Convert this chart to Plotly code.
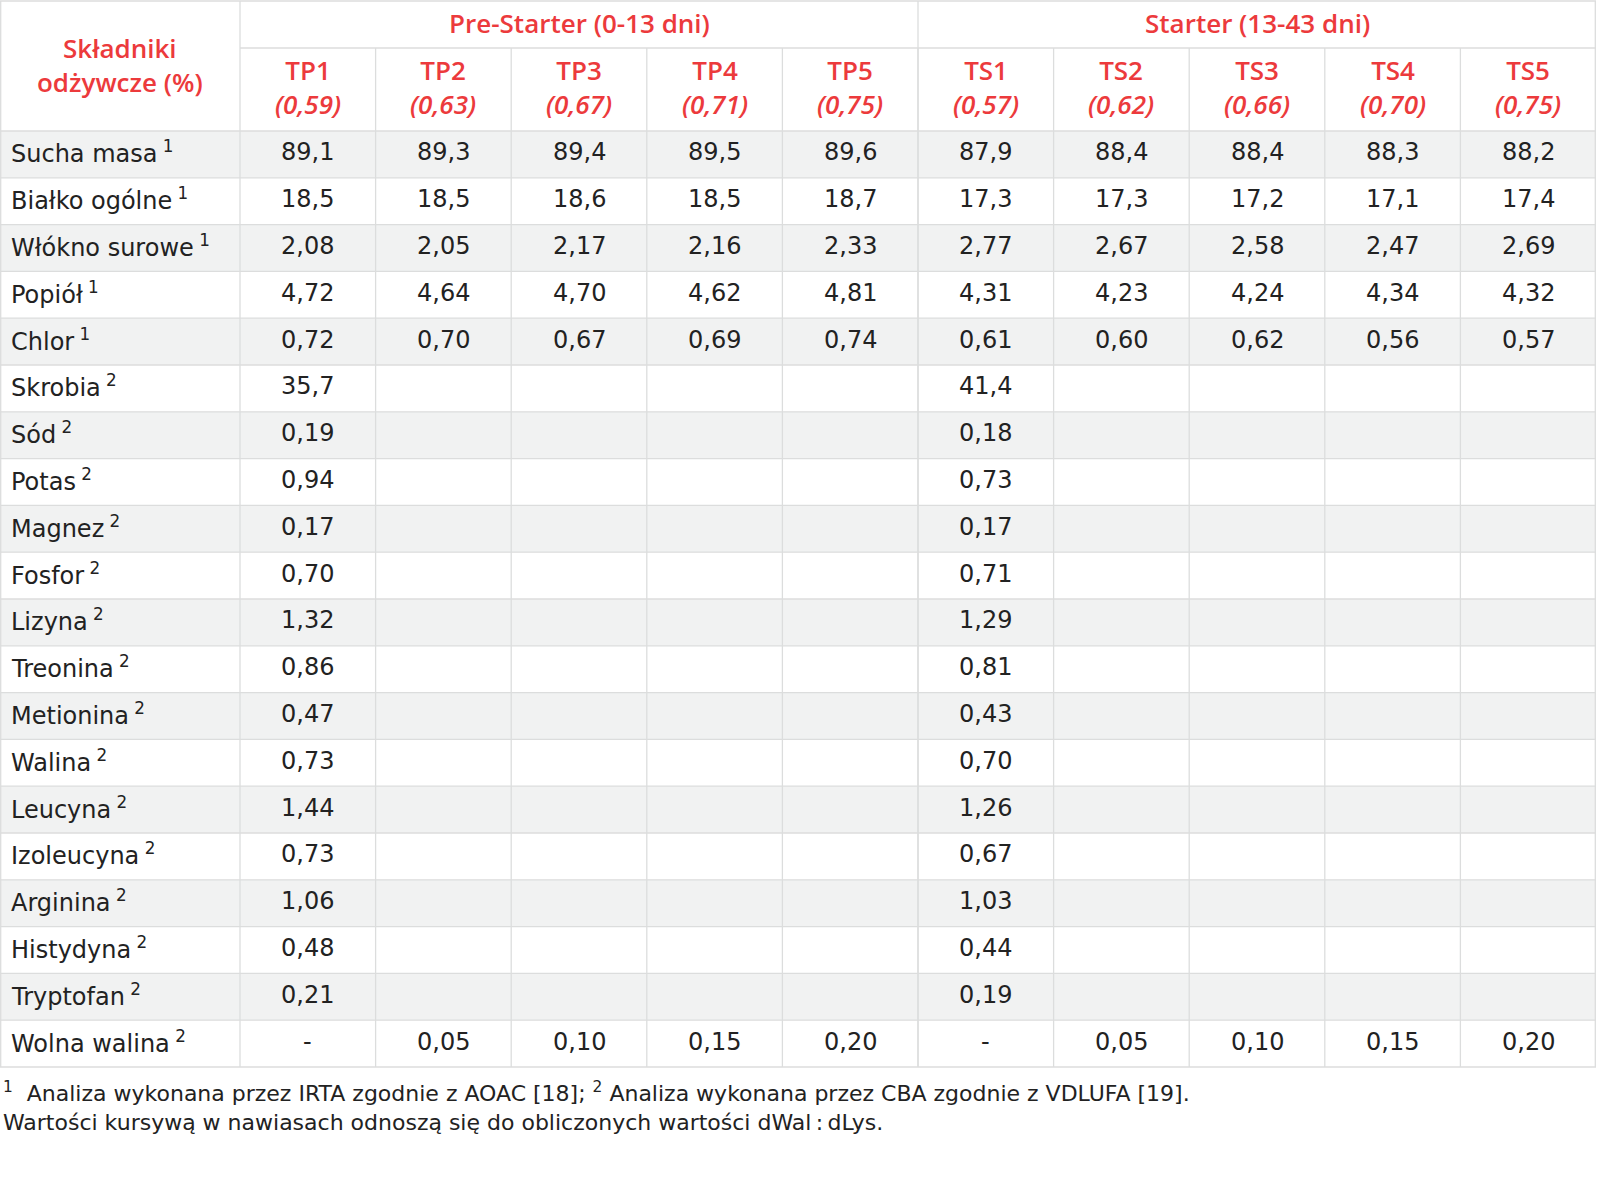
import plotly.graph_objects as go

# ---------------- data ----------------
group_labels = ["Pre-Starter (0-13 dni)", "Starter (13-43 dni)"]
col_codes = ["TP1", "TP2", "TP3", "TP4", "TP5", "TS1", "TS2", "TS3", "TS4", "TS5"]
col_ratios = ["(0,59)", "(0,63)", "(0,67)", "(0,71)", "(0,75)",
              "(0,57)", "(0,62)", "(0,66)", "(0,70)", "(0,75)"]
first_header = "Składniki<br>odżywcze (%)"

row_names = ["Sucha masa", "Białko ogólne", "Włókno surowe", "Popiół", "Chlor",
             "Skrobia", "Sód", "Potas", "Magnez", "Fosfor", "Lizyna", "Treonina",
             "Metionina", "Walina", "Leucyna", "Izoleucyna", "Arginina",
             "Histydyna", "Tryptofan", "Wolna walina"]
row_notes = ["1", "1", "1", "1", "1"] + ["2"] * 15

values = [
    ["89,1", "89,3", "89,4", "89,5", "89,6", "87,9", "88,4", "88,4", "88,3", "88,2"],
    ["18,5", "18,5", "18,6", "18,5", "18,7", "17,3", "17,3", "17,2", "17,1", "17,4"],
    ["2,08", "2,05", "2,17", "2,16", "2,33", "2,77", "2,67", "2,58", "2,47", "2,69"],
    ["4,72", "4,64", "4,70", "4,62", "4,81", "4,31", "4,23", "4,24", "4,34", "4,32"],
    ["0,72", "0,70", "0,67", "0,69", "0,74", "0,61", "0,60", "0,62", "0,56", "0,57"],
    ["35,7", "", "", "", "", "41,4", "", "", "", ""],
    ["0,19", "", "", "", "", "0,18", "", "", "", ""],
    ["0,94", "", "", "", "", "0,73", "", "", "", ""],
    ["0,17", "", "", "", "", "0,17", "", "", "", ""],
    ["0,70", "", "", "", "", "0,71", "", "", "", ""],
    ["1,32", "", "", "", "", "1,29", "", "", "", ""],
    ["0,86", "", "", "", "", "0,81", "", "", "", ""],
    ["0,47", "", "", "", "", "0,43", "", "", "", ""],
    ["0,73", "", "", "", "", "0,70", "", "", "", ""],
    ["1,44", "", "", "", "", "1,26", "", "", "", ""],
    ["0,73", "", "", "", "", "0,67", "", "", "", ""],
    ["1,06", "", "", "", "", "1,03", "", "", "", ""],
    ["0,48", "", "", "", "", "0,44", "", "", "", ""],
    ["0,21", "", "", "", "", "0,19", "", "", "", ""],
    ["-", "0,05", "0,10", "0,15", "0,20", "-", "0,05", "0,10", "0,15", "0,20"],
]

footnotes = [
    "<sup>1</sup>  Analiza wykonana przez IRTA zgodnie z AOAC [18]; <sup>2</sup> Analiza wykonana przez CBA zgodnie z VDLUFA [19].",
    "Wartości kursywą w nawiasach odnoszą się do obliczonych wartości dWal\u2009:\u2009dLys.",
]

# ---------------- layout constants ----------------
W, H = 1600, 1198
BODY_FONT = "DejaVu Sans"
HEAD_FONT = "Open Sans"
RED = "#EC3A3C"
TXT = "#222222"
GRID = "#dcdddd"
ZEBRA = "#f1f2f2"

first_w = 240.0
col_w = 135.6
h1, h2 = 47.0, 83.0
row_h = 46.8
top = 1.0

col_edges = [0.0, first_w]
for _ in col_codes:
    col_edges.append(col_edges[-1] + col_w)
header_bottom = top + h1 + h2
row_edges = [header_bottom + i * row_h for i in range(len(row_names) + 1)]
table_bottom = row_edges[-1]
right = col_edges[-1]

shapes = []
annotations = []

for i in range(len(row_names)):
    if i % 2 == 0:
        shapes.append(dict(type="rect", xref="x", yref="y", x0=0, x1=right,
                           y0=row_edges[i], y1=row_edges[i + 1],
                           fillcolor=ZEBRA, line=dict(width=0), layer="below"))

def hline(y, x0, x1):
    shapes.append(dict(type="line", xref="x", yref="y", x0=x0, x1=x1, y0=y, y1=y,
                       line=dict(color=GRID, width=1.3)))

def vline(x, y0, y1):
    shapes.append(dict(type="line", xref="x", yref="y", x0=x, x1=x, y0=y0, y1=y1,
                       line=dict(color=GRID, width=1.3)))

hline(top, 0, right)
hline(top + h1, first_w, right)
for y in row_edges:
    hline(y, 0, right)
vline(0.7, top, table_bottom)
vline(right - 0.7, top, table_bottom)
vline(first_w, top, table_bottom)
n_first = 5
vline(col_edges[1 + n_first], top, table_bottom)
for k in range(1, len(col_codes)):
    vline(col_edges[1 + k], top + h1, table_bottom)

HSIZE = 26
BSIZE = 24
group_spans = [(1, 1 + n_first), (1 + n_first, 1 + len(col_codes))]
for lab, (a, b) in zip(group_labels, group_spans):
    annotations.append(dict(x=(col_edges[a] + col_edges[b]) / 2, y=top + h1 / 2 - 2,
                            text=lab, showarrow=False, xref="x", yref="y",
                            font=dict(family=HEAD_FONT, size=HSIZE, color=RED, weight=600),
                            xanchor="center", yanchor="middle"))

annotations.append(dict(x=first_w / 2, y=top + (h1 + h2) / 2 - 1, text=first_header,
                        showarrow=False, xref="x", yref="y",
                        font=dict(family=HEAD_FONT, size=HSIZE, color=RED, weight=600),
                        xanchor="center", yanchor="middle"))

for k, (code, ratio) in enumerate(zip(col_codes, col_ratios)):
    xc = (col_edges[1 + k] + col_edges[2 + k]) / 2
    annotations.append(dict(x=xc, y=top + h1 + h2 / 2 - 3,
                            text=f"{code}<br><i>{ratio}</i>",
                            showarrow=False, xref="x", yref="y",
                            font=dict(family=HEAD_FONT, size=HSIZE, color=RED, weight=600),
                            xanchor="center", yanchor="middle"))

for i, (name, note) in enumerate(zip(row_names, row_notes)):
    yc = (row_edges[i] + row_edges[i + 1]) / 2 - 2
    annotations.append(dict(x=9, y=yc, text=f"{name}<sup> {note}</sup>",
                            showarrow=False, xref="x", yref="y",
                            font=dict(family=BODY_FONT, size=BSIZE, color=TXT),
                            xanchor="left", yanchor="middle"))
    for k, v in enumerate(values[i]):
        if v == "":
            continue
        xc = (col_edges[1 + k] + col_edges[2 + k]) / 2
        annotations.append(dict(x=xc, y=yc, text=v, showarrow=False,
                                xref="x", yref="y",
                                font=dict(family=BODY_FONT, size=BSIZE, color=TXT),
                                xanchor="center", yanchor="middle"))

for j, fn in enumerate(footnotes):
    annotations.append(dict(x=1, y=table_bottom + 25 + j * 30, text=fn,
                            showarrow=False, xref="x", yref="y",
                            font=dict(family=BODY_FONT, size=22, color=TXT),
                            xanchor="left", yanchor="middle"))

fig = go.Figure()
fig.add_trace(go.Scatter(x=[0, W], y=[0, H], mode="markers",
                         marker=dict(opacity=0), hoverinfo="skip", showlegend=False))
fig.update_layout(
    width=W, height=H,
    margin=dict(l=0, r=0, t=0, b=0),
    paper_bgcolor="white", plot_bgcolor="white",
    xaxis=dict(range=[0, W], visible=False, fixedrange=True),
    yaxis=dict(range=[H, 0], visible=False, fixedrange=True),
    shapes=shapes, annotations=annotations,
    showlegend=False,
)
fig.write_html("out.html", post_script="document.body.style.margin='0';",
               config={"displayModeBar": False})
